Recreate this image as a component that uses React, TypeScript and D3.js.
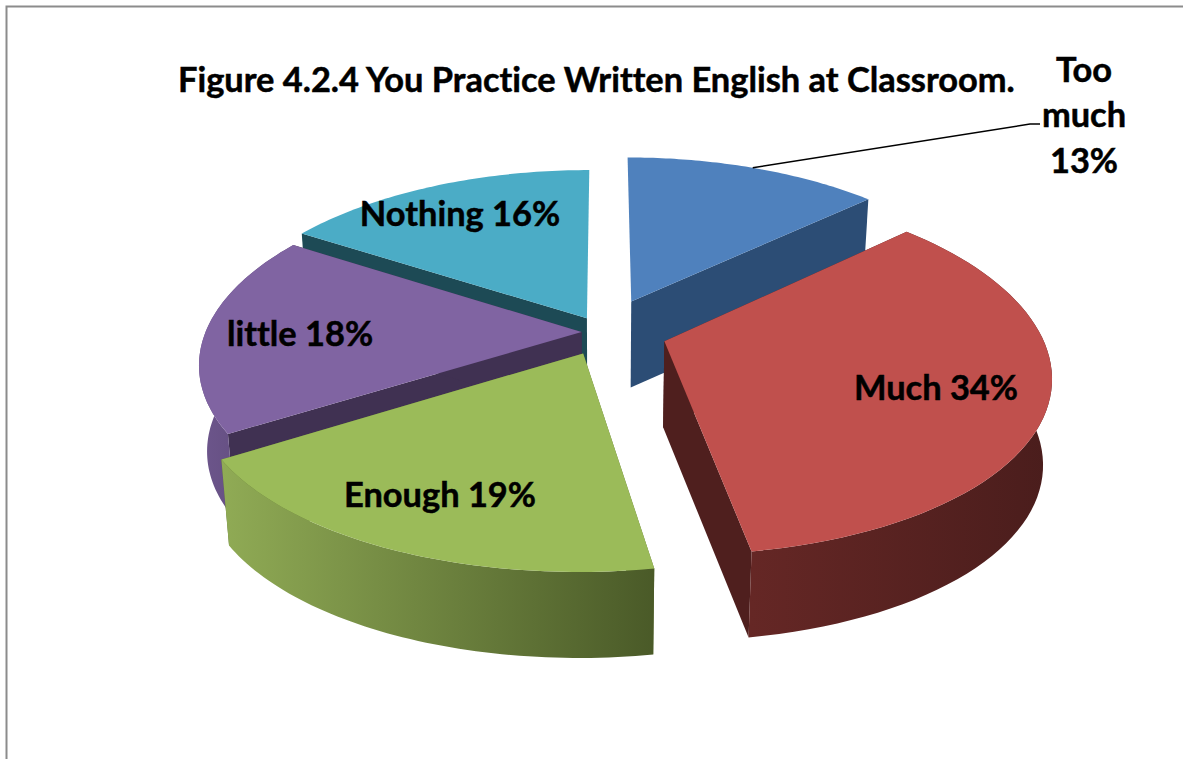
import React from "react";
import * as d3 from "d3";

const categories = ["Too much", "Much", "Enough", "little", "Nothing"];
const values = [13, 34, 19, 18, 16];
const explosion = [0.195, 0.17, 0.13, 0.057, 0.09];
const topColors = ["#4f81bd", "#c0504d", "#9bbb59", "#8064a2", "#4bacc6"];
const sideColors = ["#2c4d75", "#4f1f1e", "#5c7033", "#403152", "#1d4a55"];
const wallStops = [
  ["#2c4d75", "#2c4d75"],
  ["#652725", "#4a1d1c"],
  ["#90ab55", "#4a5a28"],
  ["#6d568c", "#5a4674"],
  ["#215968", "#215968"],
];
const paintOrder = [0, 4, 3, 1, 2];
const labelSpots: [string, number, number][] = [
  ["Much 34%", 936, 400],
  ["Enough 19%", 440, 507],
  ["little 18%", 300, 346],
  ["Nothing 16%", 460, 226],
];

const W = 1183, H = 759;
const cx = 603, cy = 332, Rx = 376, Ry = 176, perspX = 0.175, perspY = 0.16, depth = 86, taper = 0.02;

function project(x: number, y: number, z: number): [number, number] {
  const sx = (x * Rx) / (1 + perspX * y) * (1 - taper * z);
  const sy = (-y * Ry) / (1 + perspY * y) + depth * z;
  return [cx + sx, cy + sy];
}

// the drawn pie has a slight camera skew: angles near the front are pulled round
const skew = (t: number) => t + 0.03 * Math.exp(-(((t - 2.44) / 1.4) ** 2));

const pieGen = d3.pie<number>().sort(null).startAngle(0).endAngle(2 * Math.PI);
const arcs = pieGen(values);
const line = d3.line();

export default function App() {
  const faces = paintOrder.map((i) => {
    const a = arcs[i];
    const mid = (a.startAngle + a.endAngle) / 2;
    const ox = Math.sin(mid) * explosion[i];
    const oy = Math.cos(mid) * explosion[i];
    const angs = d3.range(0, 61).map((t) => skew(a.startAngle + ((a.endAngle - a.startAngle) * t) / 60));
    const rim = (z: number) => angs.map((t) => project(ox + Math.sin(t), oy + Math.cos(t), z));
    const apex = (z: number) => project(ox, oy, z);
    const top = rim(0), bot = rim(1);
    return {
      i,
      top: line([apex(0), ...top])! + "Z",
      outer: line([...top, ...bot.slice().reverse()])! + "Z",
      side0: line([apex(0), top[0], bot[0], apex(1)])! + "Z",
      side1: line([apex(0), top[60], bot[60], apex(1)])! + "Z",
      x0: d3.min(top, (p) => p[0])!,
      x1: d3.max(top, (p) => p[0])!,
      // slices whose rim lies at the back show no outer wall; their start/end cut faces the viewer only on one side
      showOuter: i !== 0 && i !== 4,
      showSide0: i !== 0,
      showSide1: i !== 4,
    };
  });
  const blueMid = (arcs[0].startAngle + arcs[0].endAngle) / 2;
  const bluePt = project(
    explosion[0] * Math.sin(blueMid) + Math.sin(blueMid),
    explosion[0] * Math.cos(blueMid) + Math.cos(blueMid),
    0
  );
  return (
    <svg width={W} height={H} style={{ position: "absolute", left: 0, top: 0, background: "#fff", fontVariantLigatures: "none" }}
      fontFamily="Lato, 'Open Sans', sans-serif" fontWeight={700}>
      <defs>
        {faces.map((f) => (
          <linearGradient key={f.i} id={`wall${f.i}`} gradientUnits="userSpaceOnUse" x1={f.x0} x2={f.x1} y1={0} y2={0}>
            <stop offset="0" stopColor={wallStops[f.i][0]} />
            <stop offset="1" stopColor={wallStops[f.i][1]} />
          </linearGradient>
        ))}
      </defs>
      <path d={`M6.5 ${H}V6.5H${W}`} fill="none" stroke="#8c8c8c" strokeWidth={2} />
      {faces.map((f) => (
        <g key={f.i}>
          {f.showSide0 && <path d={f.side0} fill={sideColors[f.i]} />}
          {f.showSide1 && <path d={f.side1} fill={sideColors[f.i]} />}
          {f.showOuter && <path d={f.outer} fill={`url(#wall${f.i})`} />}
          <path d={f.top} fill={topColors[f.i]} />
        </g>
      ))}
      <polyline points={`${bluePt[0]},${bluePt[1]} 1030,124 1040,124`} fill="none" stroke="#000" strokeWidth={1.5} />
      <g stroke="#000" strokeWidth={0.5}>
        <text x={178} y={92} fontSize={34.4} fill="#000">Figure 4.2.4 You Practice Written English at Classroom.</text>
        <g fontSize={34.4} fill="#000" textAnchor="middle">
          <text x={1084} y={82}>Too</text>
          <text x={1084} y={127}>much</text>
          <text x={1084} y={173}>13%</text>
          {labelSpots.map(([t, x, y]) => (
            <text key={t} x={x} y={y}>{t}</text>
          ))}
        </g>
      </g>
    </svg>
  );
}
